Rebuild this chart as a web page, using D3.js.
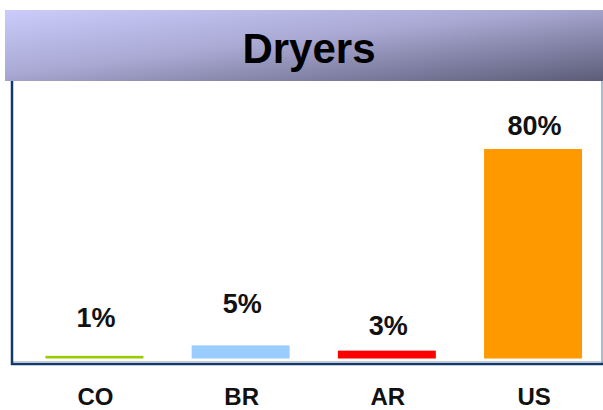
<!DOCTYPE html>
<html>
<head>
<meta charset="utf-8">
<script src="https://cdn.jsdelivr.net/npm/d3@7"></script>
<style>
  html, body { margin: 0; padding: 0; background: #ffffff; }
  svg { display: block; }
  text { font-family: "Liberation Sans", Arial, sans-serif; font-weight: bold; }
</style>
</head>
<body>
<svg id="chart" width="603" height="410"></svg>
<script>
// Share of households with a clothes dryer, by country
const categories = ["CO", "BR", "AR", "US"];
const shares = [1, 5, 3, 80];
const valueLabels = ["1%", "5%", "3%", "80%"];
const barColors = ["#99cc00", "#99ccff", "#ff0000", "#ff9900"];
const chartTitle = "Dryers";

// layout
const W = 603, H = 410;
const banner = { x: 5, y: 10, h: 71 };
const plotLeft = 12, plotRight = 602, axisY = 364, baseY = 358.5;
const labelGap = [29, 32, 16, 14];

const svg = d3.select("#chart");

// title banner gradient
const defs = svg.append("defs");
const grad = defs.append("linearGradient")
  .attr("id", "bannerGrad")
  .attr("x1", "0").attr("y1", "0").attr("x2", "1").attr("y2", "1");
grad.append("stop").attr("offset", "0%").attr("stop-color", "#ccccfc");
grad.append("stop").attr("offset", "45%").attr("stop-color", "#a9a9d4");
grad.append("stop").attr("offset", "100%").attr("stop-color", "#5c5c78");

svg.append("rect")
  .attr("x", banner.x).attr("y", banner.y)
  .attr("width", W - banner.x).attr("height", banner.h)
  .attr("fill", "url(#bannerGrad)");

svg.append("text")
  .attr("x", 309).attr("y", 63)
  .attr("text-anchor", "middle")
  .attr("font-size", 42)
  .attr("fill", "#000000")
  .text(chartTitle);

// scales
const x = d3.scaleBand()
  .domain(categories)
  .range([21.35, 606.15])
  .paddingInner(0.33)
  .paddingOuter(0.165);

const y = d3.scaleLinear()
  .domain([0, 80])
  .range([baseY, 149]);

// frame: light right edge, navy left and bottom axes
svg.append("line")
  .attr("x1", plotRight).attr("x2", plotRight)
  .attr("y1", banner.y + banner.h).attr("y2", axisY)
  .attr("stroke", "#8ea3c2").attr("stroke-width", 1.5);

svg.append("line")
  .attr("x1", plotLeft).attr("x2", W)
  .attr("y1", axisY - 2.3).attr("y2", axisY - 2.3)
  .attr("stroke", "#b8c0cc").attr("stroke-width", 1);

// bars
svg.append("g").selectAll("rect")
  .data(categories)
  .join("rect")
  .attr("x", d => x(d))
  .attr("width", x.bandwidth())
  .attr("y", (d, i) => y(shares[i]))
  .attr("height", (d, i) => y(0) - y(shares[i]))
  .attr("fill", (d, i) => barColors[i]);

// value labels
svg.append("g").selectAll("text")
  .data(categories)
  .join("text")
  .attr("x", d => x(d) + x.bandwidth() / 2 + 1.5)
  .attr("y", (d, i) => y(shares[i]) - labelGap[i])
  .attr("text-anchor", "middle")
  .attr("font-size", 27)
  .attr("fill", "#111111")
  .text((d, i) => valueLabels[i]);

// category axis
const xAxis = svg.append("g")
  .attr("transform", `translate(0,${axisY})`)
  .call(d3.axisBottom(x).tickSize(0).tickPadding(0));
xAxis.select(".domain").remove();
xAxis.selectAll("text")
  .attr("dy", null)
  .attr("y", 41)
  .attr("x", 1)
  .attr("font-size", 24)
  .attr("fill", "#111111")
  .style("font-family", "'Liberation Sans', Arial, sans-serif")
  .style("font-weight", "bold");

svg.append("line")
  .attr("x1", plotLeft - 1).attr("x2", W)
  .attr("y1", axisY).attr("y2", axisY)
  .attr("stroke", "#15386b").attr("stroke-width", 2.5);

svg.append("line")
  .attr("x1", plotLeft).attr("x2", plotLeft)
  .attr("y1", banner.y + banner.h).attr("y2", axisY + 1)
  .attr("stroke", "#15386b").attr("stroke-width", 2.5);
</script>
</body>
</html>
